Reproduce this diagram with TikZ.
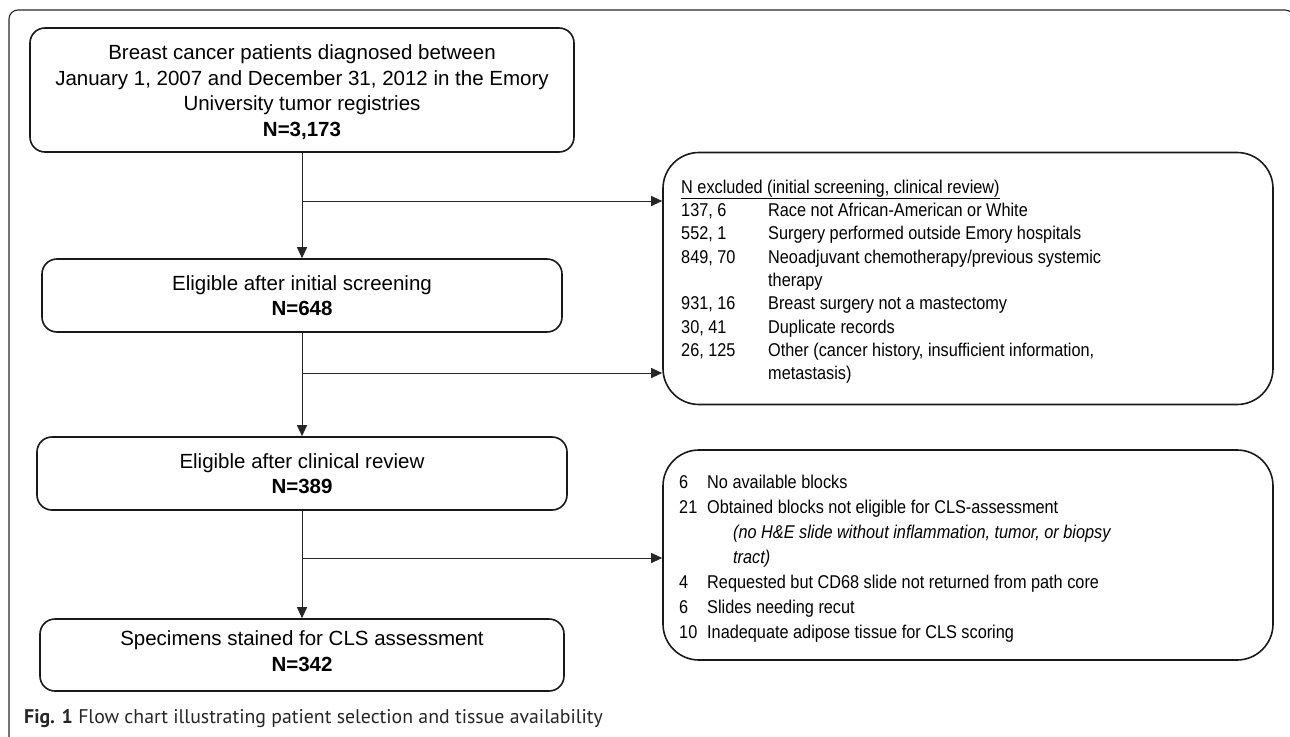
\documentclass[tikz,border=0pt]{standalone}
\usepackage{fontspec}
\setmainfont{Liberation Sans}
\newfontfamily\narrowfont[FakeStretch=0.88]{Liberation Sans}
\newfontfamily\capfont{PT Sans}
\usetikzlibrary{arrows.meta}
\begin{document}
\begin{tikzpicture}[x=1pt,y=-1pt,
  mainbox/.style={draw=black!90, line width=1.6pt, rounded corners=15pt, inner sep=0pt},
  boxtext/.style={inner sep=0pt, align=center, font=\fontsize{20.5}{25.5}\selectfont, text=black},
  sidebox/.style={draw=black!90, line width=1.6pt, rounded corners=36pt, inner sep=0pt},
  listtext/.style={anchor=north west, inner sep=0pt, text=black},
  arr/.style={draw=black!85, line width=0.9pt, -{Triangle[length=11pt,width=10pt]}},
]
\useasboundingbox (0,0) rectangle (1290,736);
\begin{scope}
\clip (0,0) rectangle (1290,736);
\draw[line width=1.1pt, rounded corners=9pt, black!85] (9,760) -- (9,10) -- (1294,10) -- (1294,760);
\end{scope}

\node[mainbox, minimum width=544pt, minimum height=124pt] (b1) at (302,90) {};
\node[mainbox, minimum width=520pt, minimum height=73pt] (b2) at (302,295.5) {};
\node[mainbox, minimum width=530pt, minimum height=73pt] (b3) at (302,473.5) {};
\node[mainbox, minimum width=524pt, minimum height=72pt] (b4) at (302,655) {};

\node[boxtext] (b1t) at (302,92)
  {Breast cancer patients diagnosed between\\January 1, 2007 and December 31, 2012 in the Emory\\University tumor registries\\\textbf{N=3,173}};
\node[boxtext] (b2t) at (302,295.5) {Eligible after initial screening\\\textbf{N=648}};
\node[boxtext] (b3t) at (302,473.5) {Eligible after clinical review\\\textbf{N=389}};
\node[boxtext] (b4t) at (302,651) {Specimens stained for CLS assessment\\\textbf{N=342}};

\node[sidebox, minimum width=610pt, minimum height=252pt] (rb1) at (968,278.5) {};
\node[sidebox, minimum width=610pt, minimum height=210pt] (rb2) at (968,555) {};

\node[listtext, font=\narrowfont\fontsize{18.5}{23.3}\selectfont] (t1) at (681,176.7) {%
\begin{tabular}{@{}p{87pt}@{}l@{}}
\multicolumn{2}{@{}l@{}}{\underline{N excluded (initial screening, clinical review)}}\\
137, 6 & Race not African-American or White\\
552, 1 & Surgery performed outside Emory hospitals\\
849, 70 & Neoadjuvant chemotherapy/previous systemic\\
 & therapy\\
931, 16 & Breast surgery not a mastectomy\\
30, 41 & Duplicate records\\
26, 125 & Other (cancer history, insufficient information,\\
 & metastasis)
\end{tabular}};

\node[listtext, font=\narrowfont\fontsize{18.5}{25}\selectfont] (t2) at (679,471.2) {%
\begin{tabular}{@{}p{28pt}@{}l@{}}
6 & No available blocks\\
21 & Obtained blocks not eligible for CLS-assessment\\
 & \hspace{26pt}{\itshape (no H\&E slide without inflammation, tumor, or biopsy}\\
 & \hspace{26pt}{\itshape tract)}\\
4 & Requested but CD68 slide not returned from path core\\
6 & Slides needing recut\\
10 & Inadequate adipose tissue for CLS scoring
\end{tabular}};

\node[anchor=base west, inner sep=0pt, font=\capfont\fontsize{19.8}{22}\selectfont, text=black!85] (cap) at (24,723)
  {\textbf{Fig. 1} Flow chart illustrating patient selection and tissue availability};

\draw[arr] (b1.south) -- (b2.north);
\draw[arr] (b2.south) -- (b3.north);
\draw[arr] (b3.south) -- (b4.north);
\coordinate (j1) at (302,201);
\coordinate (j2) at (302,373);
\coordinate (j3) at (302,558);
\draw[arr] (j1) -- (j1 -| rb1.west);
\draw[arr] (j2) -- (j2 -| rb1.west);
\draw[arr] (j3) -- (j3 -| rb2.west);
\end{tikzpicture}
\end{document}
